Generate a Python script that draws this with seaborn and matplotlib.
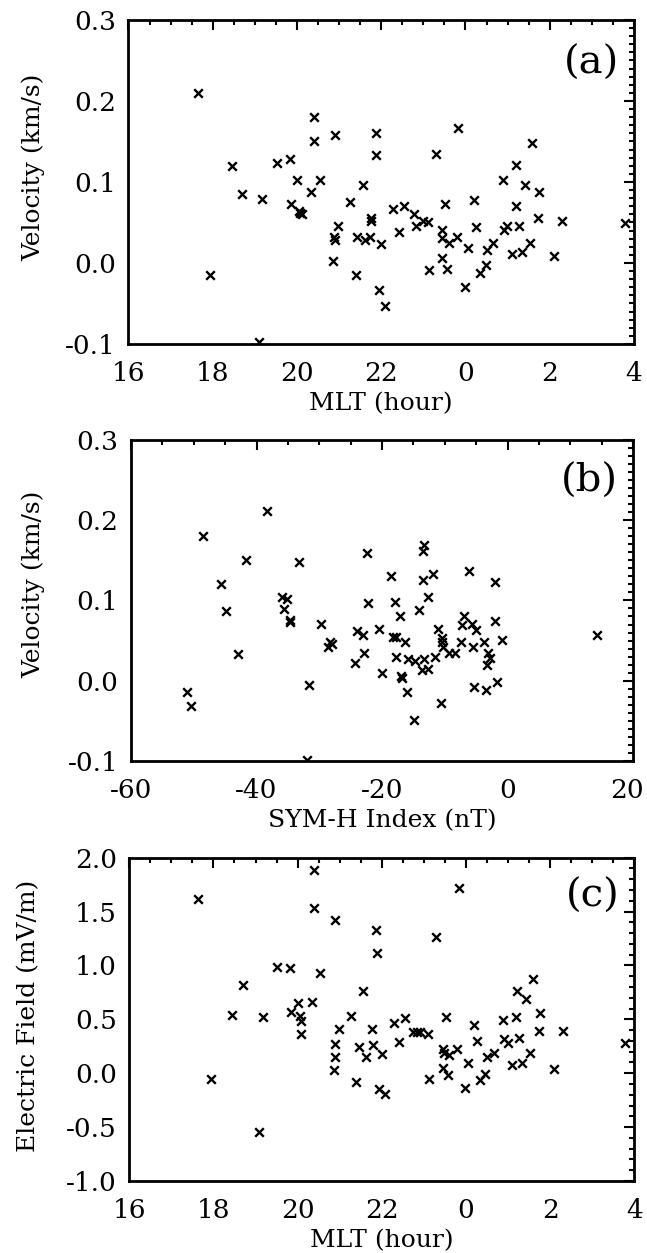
import numpy as np
import pandas as pd
import matplotlib
import matplotlib.pyplot as plt
import matplotlib.transforms as mtransforms
import seaborn as sns
from matplotlib.ticker import MultipleLocator

# data
# panel (a): MLT (hours, 24+ means after midnight) vs velocity
mlt_a = [17.64, 17.94, 18.45, 18.70, 19.09, 19.17, 19.52, 19.83, 19.85, 20.00,
         20.05, 20.08, 20.11, 20.33, 20.40, 20.40, 20.54, 20.90, 20.86, 20.88,
         20.90, 20.98, 21.26, 21.39, 21.43, 21.56, 21.62, 21.74, 21.75, 21.76,
         21.87, 21.88, 22.00, 21.94, 22.10, 22.28, 22.42, 22.54, 22.78, 22.83,
         22.98, 23.11, 23.13, 23.29, 23.45, 23.45, 23.45, 23.52, 23.57, 23.60,
         23.79, 23.83, 23.98, 24.06, 24.20, 24.26, 24.34, 24.48, 24.50, 24.66,
         24.88, 24.91, 24.99, 25.10, 25.20, 25.21, 25.27, 25.33, 25.41, 25.53,
         25.59, 25.73, 25.75, 26.09, 26.30, 27.78]
vel_a = [0.210, -0.015, 0.120, 0.085, -0.098, 0.079, 0.123, 0.128, 0.073, 0.102,
         0.064, 0.062, 0.060, 0.087, 0.180, 0.151, 0.103, 0.158, 0.002, 0.032,
         0.028, 0.046, 0.075, -0.015, 0.032, 0.096, 0.028, 0.032, 0.055, 0.052,
         0.161, 0.133, 0.023, -0.033, -0.053, 0.067, 0.038, 0.070, 0.060, 0.046,
         0.052, 0.050, -0.009, 0.135, 0.041, 0.031, 0.006, 0.073, -0.007, 0.025,
         0.032, 0.167, -0.030, 0.019, 0.078, 0.044, -0.013, -0.003, 0.016, 0.025,
         0.103, 0.041, 0.046, 0.011, 0.070, 0.121, 0.046, 0.014, 0.096, 0.025,
         0.148, 0.055, 0.087, 0.008, 0.052, 0.049]

# panel (b): SYM-H vs velocity
symh_b = [-51.1, -50.4, -48.6, -45.7, -44.9, -42.9, -41.7, -38.3, -35.9, -35.2,
          -35.6, -34.7, -34.6, -33.2, -31.7, -31.9, -29.7, -28.3, -28.6, -28.0,
          -24.3, -24.0, -23.1, -22.8, -22.4, -22.2, -20.5, -20.0, -18.6, -18.2,
          -17.8, -17.9, -17.7, -17.1, -16.9, -16.8, -16.3, -16.0, -15.8, -14.7,
          -14.9, -14.1, -13.3, -13.7, -13.5, -13.5, -13.3, -12.7, -12.7, -11.8,
          -11.6, -11.1, -10.5, -10.5, -10.3, -10.6, -9.4, -8.4, -7.4, -7.0,
          -7.3, -6.2, -5.7, -5.5, -5.3, -5.1, -3.7, -3.3, -3.4, -3.1,
          -2.8, -2.0, -2.0, -1.7, -0.9, 14.2]
vel_b = [-0.014, -0.031, 0.180, 0.121, 0.087, 0.033, 0.151, 0.211, 0.104, 0.102,
         0.089, 0.076, 0.073, 0.148, -0.005, -0.099, 0.071, 0.048, 0.042, 0.046,
         0.022, 0.062, 0.057, 0.034, 0.159, 0.097, 0.065, 0.010, 0.130, 0.054,
         0.054, 0.098, 0.030, 0.080, 0.006, 0.003, 0.048, -0.014, 0.027, 0.024,
         -0.049, 0.088, 0.027, 0.013, 0.125, 0.162, 0.169, 0.104, 0.015, 0.133,
         0.030, 0.065, 0.053, 0.048, 0.042, -0.028, 0.034, 0.034, 0.048, 0.080,
         0.069, 0.137, 0.071, 0.042, -0.008, 0.063, 0.048, 0.019, -0.011, 0.034,
         0.028, 0.123, 0.074, -0.002, 0.051, 0.057]

# panel (c): MLT vs electric field
mlt_c = [17.64, 17.94, 18.45, 18.70, 19.09, 19.17, 19.52, 19.83, 19.85, 20.00,
         20.05, 20.09, 20.09, 20.33, 20.40, 20.40, 20.54, 20.90, 20.86, 20.90,
         20.90, 20.98, 21.26, 21.39, 21.45, 21.56, 21.62, 21.77, 21.80, 21.87,
         21.88, 22.00, 21.94, 22.08, 22.28, 22.42, 22.54, 22.75, 22.83, 22.91,
         23.10, 23.13, 23.29, 23.45, 23.47, 23.45, 23.52, 23.57, 23.60, 23.79,
         23.83, 23.98, 24.06, 24.18, 24.26, 24.34, 24.46, 24.50, 24.66, 24.88,
         24.90, 24.99, 25.10, 25.20, 25.21, 25.27, 25.33, 25.43, 25.53, 25.59,
         25.73, 25.75, 26.09, 26.30, 27.78]
efield_c = [1.62, -0.05, 0.54, 0.82, -0.55, 0.52, 0.99, 0.98, 0.57, 0.65,
            0.53, 0.48, 0.36, 0.66, 1.89, 1.53, 0.93, 1.42, 0.03, 0.15,
            0.27, 0.41, 0.53, -0.08, 0.24, 0.76, 0.15, 0.41, 0.26, 1.33,
            1.12, 0.18, -0.15, -0.19, 0.47, 0.29, 0.51, 0.38, 0.38, 0.38,
            0.36, -0.05, 1.26, 0.22, 0.19, 0.05, 0.52, -0.02, 0.17, 0.22,
            1.72, -0.14, 0.09, 0.45, 0.30, -0.06, -0.01, 0.15, 0.19, 0.49,
            0.32, 0.28, 0.08, 0.52, 0.76, 0.33, 0.09, 0.69, 0.19, 0.87,
            0.39, 0.56, 0.04, 0.39, 0.28]

mlt_ticks = [16, 18, 20, 22, 24, 26, 28]
mlt_ticklabels = ['16', '18', '20', '22', '0', '2', '4']

df_a = pd.DataFrame({'mlt': mlt_a, 'vel': vel_a})
df_b = pd.DataFrame({'symh': symh_b, 'vel': vel_b})
df_c = pd.DataFrame({'mlt': mlt_c, 'ef': efield_c})

sns.set_style('white')
plt.rcParams['font.family'] = ['DejaVu Serif']
plt.rcParams['axes.unicode_minus'] = False
plt.rcParams['text.color'] = 'black'
plt.rcParams['axes.labelcolor'] = 'black'
plt.rcParams['xtick.color'] = 'black'
plt.rcParams['ytick.color'] = 'black'

fig = plt.figure(figsize=(6.47, 12.53), dpi=100)
ax_a = fig.add_axes([0.1986, 0.7255, 0.7813, 0.2586])
ax_b = fig.add_axes([0.2025, 0.3927, 0.7759, 0.2562])
ax_c = fig.add_axes([0.1998, 0.0575, 0.7806, 0.2580])


def style_axes(ax):
    for sp in ax.spines.values():
        sp.set_linewidth(2)
        sp.set_color('black')
    ax.tick_params(which='both', direction='in', top=True, right=True,
                   width=1.5, color='black', labelcolor='black', labelsize=19)
    ax.tick_params(axis='x', which='both', pad=12)
    ax.tick_params(axis='y', which='both', pad=9)
    ax.tick_params(which='major', length=7)
    ax.tick_params(which='minor', length=3.5)


marker_kw = dict(marker='x', color='black', s=38, linewidth=1.7, legend=False)

# (a) velocity vs MLT
sns.scatterplot(data=df_a, x='mlt', y='vel', ax=ax_a, **marker_kw)
ax_a.set_xlim(16, 28)
ax_a.set_ylim(-0.1, 0.3)
ax_a.set_xticks(mlt_ticks)
ax_a.set_xticklabels(mlt_ticklabels)
ax_a.xaxis.set_minor_locator(MultipleLocator(0.5))
ax_a.set_yticks([-0.1, 0.0, 0.1, 0.2, 0.3])
ax_a.set_yticklabels(['-0.1', '0.0', '0.1', '0.2', '0.3'])
ax_a.yaxis.set_minor_locator(MultipleLocator(0.01))
ax_a.set_xlabel('MLT (hour)', fontsize=18, labelpad=5)
ax_a.set_ylabel('Velocity (km/s)', fontsize=18)
ax_a.yaxis.set_label_coords(-0.165, 0.545)
ax_a.text(0.97, 0.865, '(a)', transform=ax_a.transAxes, fontsize=29,
          ha='right', va='center')
style_axes(ax_a)

# (b) velocity vs SYM-H
sns.scatterplot(data=df_b, x='symh', y='vel', ax=ax_b, **marker_kw)
ax_b.set_xlim(-60, 20)
ax_b.set_ylim(-0.1, 0.3)
ax_b.set_xticks([-60, -40, -20, 0, 20])
ax_b.set_xticklabels(['-60', '-40', '-20', '0', '20'])
ax_b.xaxis.set_minor_locator(MultipleLocator(5))
ax_b.set_yticks([-0.1, 0.0, 0.1, 0.2, 0.3])
ax_b.set_yticklabels(['-0.1', '0.0', '0.1', '0.2', '0.3'])
ax_b.yaxis.set_minor_locator(MultipleLocator(0.01))
ax_b.set_xlabel('SYM-H Index (nT)', fontsize=18, labelpad=5)
ax_b.set_ylabel('Velocity (km/s)', fontsize=18)
ax_b.yaxis.set_label_coords(-0.17, 0.55)
ax_b.text(0.97, 0.87, '(b)', transform=ax_b.transAxes, fontsize=29,
          ha='right', va='center')
style_axes(ax_b)

# the last tick label sits right at the figure edge: nudge it a little left
last_lbl = ax_b.xaxis.get_major_ticks()[-1].label1
last_lbl.set_transform(last_lbl.get_transform()
                       + mtransforms.ScaledTranslation(-4 / 72, 0, fig.dpi_scale_trans))

# (c) electric field vs MLT
sns.scatterplot(data=df_c, x='mlt', y='ef', ax=ax_c, **marker_kw)
ax_c.set_xlim(16, 28)
ax_c.set_ylim(-1.0, 2.0)
ax_c.set_xticks(mlt_ticks)
ax_c.set_xticklabels(mlt_ticklabels)
ax_c.xaxis.set_minor_locator(MultipleLocator(0.5))
ax_c.set_yticks([-1.0, -0.5, 0.0, 0.5, 1.0, 1.5, 2.0])
ax_c.set_yticklabels(['-1.0', '-0.5', '0.0', '0.5', '1.0', '1.5', '2.0'])
ax_c.yaxis.set_minor_locator(MultipleLocator(0.1))
ax_c.set_xlabel('MLT (hour)', fontsize=18, labelpad=5)
ax_c.set_ylabel('Electric Field (mV/m)', fontsize=18)
ax_c.yaxis.set_label_coords(-0.177, 0.51)
ax_c.text(0.97, 0.88, '(c)', transform=ax_c.transAxes, fontsize=29,
          ha='right', va='center')
style_axes(ax_c)

plt.savefig('out.png', dpi=100)
plt.close()
